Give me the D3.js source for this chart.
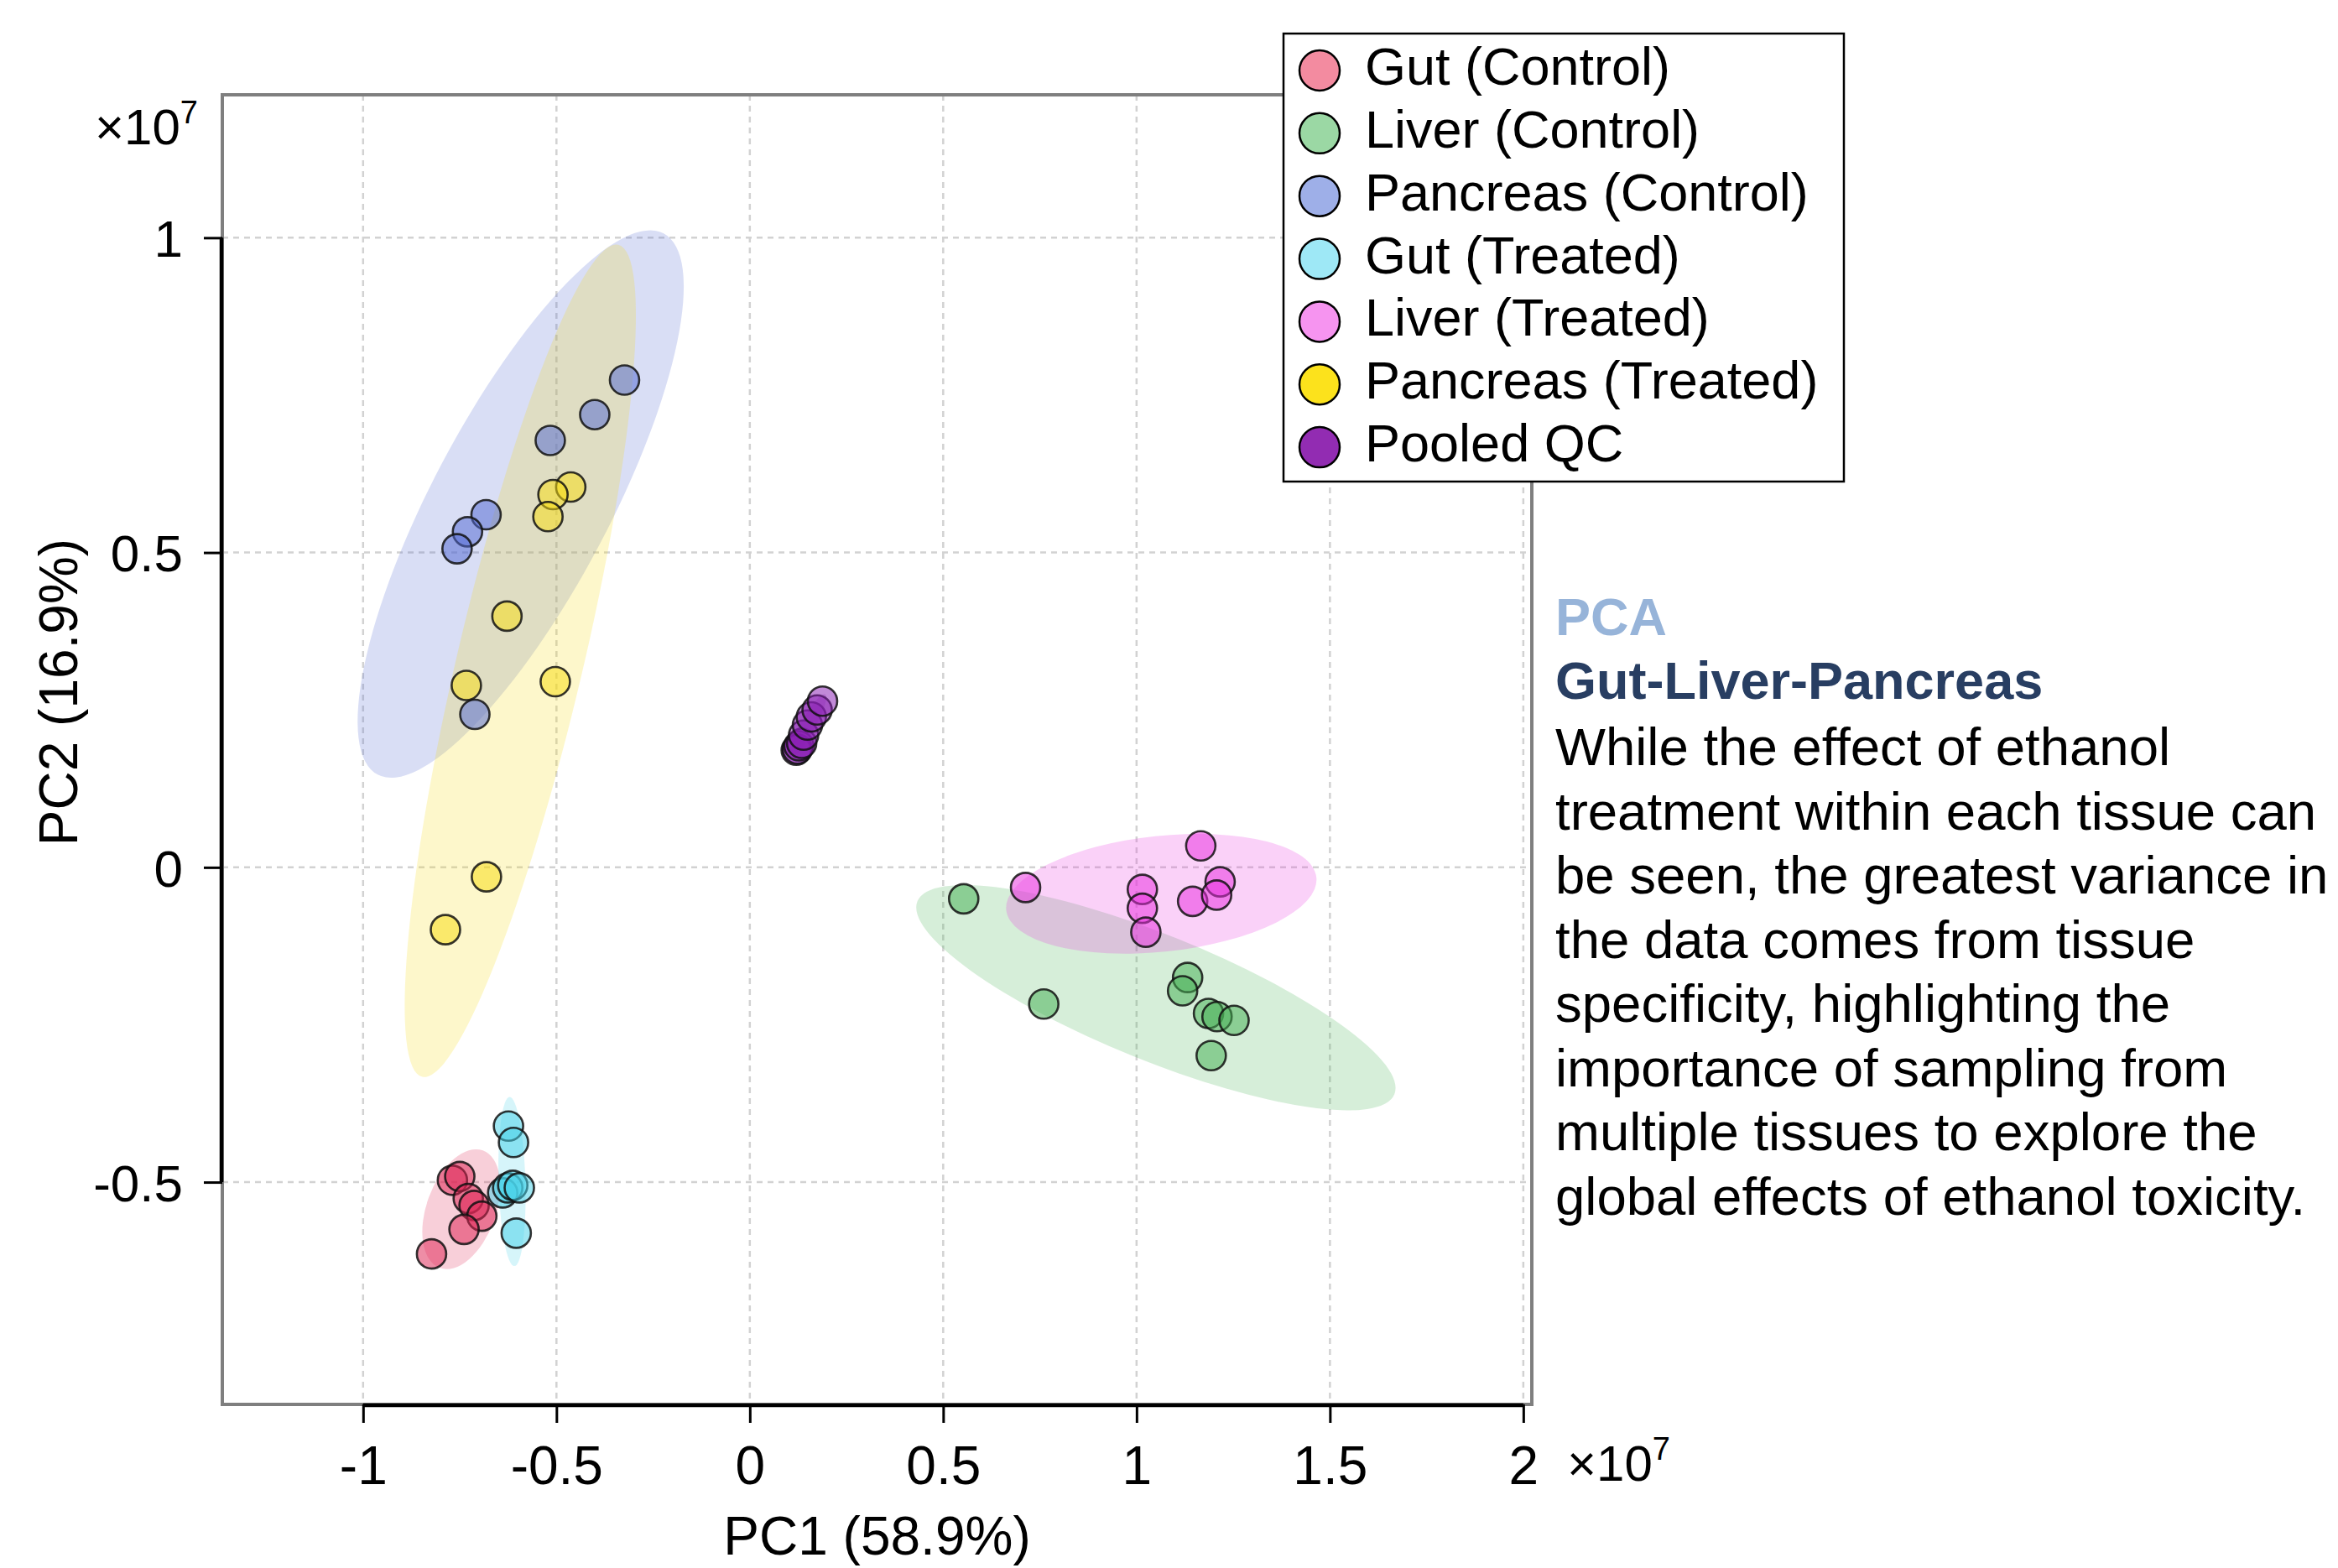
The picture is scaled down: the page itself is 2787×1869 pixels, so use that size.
<!DOCTYPE html>
<html>
<head>
<meta charset="utf-8">
<script src="https://cdn.jsdelivr.net/npm/d3@7/dist/d3.min.js"></script>
<style>
	body { margin: 0; background: #fff; }
	svg text { font-family: 'Liberation Sans', Arial, Helvetica, sans-serif; fill: #000; }
</style>
</head>
<body>
<div id="chart"></div>
<script>
// PCA scores, both axes in units of 1e7
const groupNames = ['Gut (Control)', 'Liver (Control)', 'Pancreas (Control)', 'Gut (Treated)', 'Liver (Treated)', 'Pancreas (Treated)', 'Pooled QC'];
const groupColors = ['#df2554', '#46b054', '#526ad3', '#46d1e8', '#e82fdf', '#f8dc14', '#8a1eb4'];
const legendColors = ['#f38ba0', '#9bd8a4', '#9eafe8', '#9ee8f6', '#f694f0', '#fce21c', '#922cb2'];

const gutControl = [[-0.769, -0.497], [-0.750, -0.491], [-0.728, -0.526], [-0.713, -0.537], [-0.693, -0.554], [-0.739, -0.575], [-0.823, -0.614]];
const liverControl = [[0.553, -0.050], [0.760, -0.217], [1.132, -0.175], [1.119, -0.196], [1.186, -0.232], [1.208, -0.237], [1.252, -0.243], [1.193, -0.299]];
const pancreasControl = [[-0.324, 0.774], [-0.401, 0.719], [-0.516, 0.678], [-0.682, 0.560], [-0.730, 0.533], [-0.757, 0.506], [-0.711, 0.243]];
const gutTreated = [[-0.624, -0.411], [-0.611, -0.437], [-0.639, -0.517], [-0.626, -0.509], [-0.613, -0.505], [-0.596, -0.509], [-0.604, -0.581]];
const liverTreated = [[1.166, 0.034], [0.713, -0.032], [1.015, -0.035], [1.015, -0.065], [1.024, -0.103], [1.145, -0.054], [1.216, -0.023], [1.207, -0.044]];
const pancreasTreated = [[-0.463, 0.604], [-0.509, 0.592], [-0.522, 0.557], [-0.628, 0.399], [-0.733, 0.289], [-0.503, 0.295], [-0.681, -0.015], [-0.787, -0.099]];
const pooledQC = [[0.120, 0.186], [0.123, 0.188], [0.127, 0.193], [0.134, 0.197], [0.139, 0.210], [0.149, 0.226], [0.159, 0.239], [0.174, 0.250], [0.188, 0.264]];
const groupScores = [gutControl, liverControl, pancreasControl, gutTreated, liverTreated, pancreasTreated, pooledQC];

// confidence ellipses: centre and two conjugate half-axes, data units
const ellipseCenters = [[-0.746, -0.543], [1.050, -0.207], [-0.5925, 0.577], [-0.615, -0.499], [1.064, -0.042], [-0.5935, 0.328], [0.150, 0.225]];
const ellipseMajor = [[0.0557, 0.0933], [0.6167, -0.1532], [0.3698, 0.4297], [-0.0061, 0.1343], [0.401, 0.0259], [0.2536, 0.6607], [0.045, 0.050]];
const ellipseMinor = [[0.0841, -0.0189], [-0.0607, -0.0924], [0.2025, -0.0659], [0.0347, 0], [0.0156, -0.0915], [0.1582, -0.0229], [0.016, -0.006]];

const xLimits = [-1.364, 2.022];
const yLimits = [-0.853, 1.227];
const xTicks = [-1, -0.5, 0, 0.5, 1, 1.5, 2];
const yTicks = [-0.5, 0, 0.5, 1];
const xLabel = 'PC1 (58.9%)';
const yLabel = 'PC2 (16.9%)';

const noteTitle = 'PCA';
const noteSubtitle = 'Gut-Liver-Pancreas';
const noteLines = [
	'While the effect of ethanol',
	'treatment within each tissue can',
	'be seen, the greatest variance in',
	'the data comes from tissue',
	'specificity, highlighting the',
	'importance of sampling from',
	'multiple tissues to explore the',
	'global effects of ethanol toxicity.'
];

const PcaPlot = {
	width: 2787,
	height: 1869,
	box: { left: 265, top: 113, right: 1826, bottom: 1674 },
	tickSize: 22,
	pointRadius: 17.5,
	ellipseOpacity: 0.22,
	pointOpacity: 0.52,

	svg: null,
	x: null,
	y: null,

	init: function() {
		const self = this;
		var box = self.box;

		self.svg = d3.select('#chart').append('svg')
			.attr('width', self.width)
			.attr('height', self.height)
			.style('display', 'block')
			.style('background', '#fff');

		self.x = d3.scaleLinear().domain(xLimits).range([box.left, box.right]);
		self.y = d3.scaleLinear().domain(yLimits).range([box.bottom, box.top]);
	},
	update: function() {
		PcaPlot.drawGrid();
		PcaPlot.drawEllipses();
		PcaPlot.drawPoints();
		PcaPlot.drawAxes();
		PcaPlot.drawLegend();
		PcaPlot.drawNote();
	},

	// plot area

	drawGrid: function() {
		const self = this;
		var x = self.x, y = self.y, box = self.box;
		var grid = self.svg.append('g').attr('class', 'grid')
			.style('stroke', '#d2d2d2')
			.style('stroke-width', 2.5)
			.style('stroke-dasharray', '7,6');

		grid.selectAll('.vgrid').data(xTicks).enter()
			.append('line')
			.attr('x1', d => x(d)).attr('x2', d => x(d))
			.attr('y1', box.top).attr('y2', box.bottom);

		grid.selectAll('.hgrid').data(yTicks).enter()
			.append('line')
			.attr('x1', box.left).attr('x2', box.right)
			.attr('y1', d => y(d)).attr('y2', d => y(d));
	},
	drawEllipses: function() {
		const self = this;
		var x = self.x, y = self.y;
		var ellipseData = ellipseCenters.map(function(c, i) {
			return { c: c, a: ellipseMajor[i], b: ellipseMinor[i], color: groupColors[i] };
		});

		// unit circle mapped onto the ellipse through the scales
		self.svg.append('g').attr('class', 'ellipses')
			.selectAll('circle')
			.data(ellipseData).enter()
			.append('circle')
			.attr('r', 1)
			.attr('transform', function(d) {
				var cx = x(d.c[0]), cy = y(d.c[1]);
				var m = [
					x(d.c[0] + d.a[0]) - cx, y(d.c[1] + d.a[1]) - cy,
					x(d.c[0] + d.b[0]) - cx, y(d.c[1] + d.b[1]) - cy,
					cx, cy
				];
				return 'matrix(' + m.join(',') + ')';
			})
			.style('fill', d => d.color)
			.style('fill-opacity', self.ellipseOpacity)
			.style('stroke', 'none');
	},
	drawPoints: function() {
		const self = this;
		var x = self.x, y = self.y;

		var groups = self.svg.append('g').attr('class', 'points')
			.selectAll('g')
			.data(groupScores).enter()
			.append('g')
			.style('fill', (d, i) => groupColors[i]);

		groups.selectAll('circle')
			.data(d => d).enter()
			.append('circle')
			.attr('cx', d => x(d[0]))
			.attr('cy', d => y(d[1]))
			.attr('r', self.pointRadius)
			.style('fill-opacity', self.pointOpacity)
			.style('stroke', '#111')
			.style('stroke-opacity', 0.85)
			.style('stroke-width', 2.6);
	},

	// axes

	drawAxes: function() {
		const self = this;
		var x = self.x, y = self.y, box = self.box;
		var fmt = function(d) { return String(d); };

		// gray box round the axes
		self.svg.append('rect')
			.attr('x', box.left).attr('y', box.top)
			.attr('width', box.right - box.left)
			.attr('height', box.bottom - box.top)
			.style('fill', 'none')
			.style('stroke', '#7f7f7f')
			.style('stroke-width', 4);

		var xAxis = self.svg.append('g')
			.attr('transform', 'translate(0,' + box.bottom + ')')
			.call(d3.axisBottom(x).tickValues(xTicks).tickFormat(fmt).tickSize(self.tickSize).tickPadding(28));
		var yAxis = self.svg.append('g')
			.attr('transform', 'translate(' + box.left + ',0)')
			.call(d3.axisLeft(y).tickValues(yTicks).tickFormat(fmt).tickSize(self.tickSize).tickPadding(25));

		[xAxis, yAxis].forEach(function(axis) {
			axis.select('.domain').remove();
			axis.selectAll('.tick line').style('stroke', '#000').style('stroke-width', 3);
			axis.selectAll('.tick text').style('font-family', null);
		});
		xAxis.selectAll('.tick text').style('font-size', '64px').attr('dy', '0.71em');
		yAxis.selectAll('.tick text').style('font-size', '62px').attr('dy', '0.36em');

		// black axis lines span the tick range only
		self.svg.append('line')
			.attr('x1', x(d3.min(xTicks))).attr('x2', x(d3.max(xTicks)))
			.attr('y1', box.bottom + 1).attr('y2', box.bottom + 1)
			.style('stroke', '#000').style('stroke-width', 4.5);
		self.svg.append('line')
			.attr('x1', box.left - 1).attr('x2', box.left - 1)
			.attr('y1', y(d3.max(yTicks))).attr('y2', y(d3.min(yTicks)))
			.style('stroke', '#000').style('stroke-width', 4.5);

		// exponent labels
		self.addExponent(1868, 1765);
		self.addExponent(113, 172);

		// titles
		self.svg.append('text')
			.attr('x', (box.left + box.right) / 2)
			.attr('y', 1853)
			.attr('text-anchor', 'middle')
			.style('font-size', '64px')
			.text(xLabel);
		self.svg.append('text')
			.attr('transform', 'translate(92,825) rotate(-90)')
			.attr('text-anchor', 'middle')
			.style('font-size', '64px')
			.text(yLabel);
	},
	addExponent: function(px, py) {
		const self = this;
		var t = self.svg.append('text')
			.attr('x', px).attr('y', py)
			.style('font-size', '60px');
		t.append('tspan').text('\u00d710');
		t.append('tspan')
			.attr('dy', -25)
			.style('font-size', '38px')
			.text('7');
	},

	// legend

	drawLegend: function() {
		const self = this;
		var left = 1530, top = 40, boxWidth = 668, boxHeight = 534;
		var rowHeight = 74.85, firstRow = 84;

		var legend = self.svg.append('g').attr('class', 'legend');
		legend.append('rect')
			.attr('x', left).attr('y', top)
			.attr('width', boxWidth).attr('height', boxHeight)
			.style('fill', '#fff')
			.style('stroke', '#000')
			.style('stroke-width', 2.5);

		var rows = legend.selectAll('.row')
			.data(groupNames).enter()
			.append('g')
			.attr('class', 'row')
			.attr('transform', (d, i) => 'translate(0,' + (firstRow + i * rowHeight) + ')');

		rows.append('circle')
			.attr('cx', 1573).attr('cy', 0)
			.attr('r', 24)
			.style('fill', (d, i) => legendColors[i])
			.style('stroke', '#000')
			.style('stroke-width', 2.5);
		rows.append('text')
			.attr('x', 1627).attr('y', 17)
			.style('font-size', '63px')
			.text(d => d);
	},

	// note on the right

	drawNote: function() {
		const self = this;
		var left = 1854;

		self.svg.append('text')
			.attr('x', left).attr('y', 757)
			.style('font-size', '63px').style('font-weight', 'bold')
			.style('fill', '#97b4d9')
			.text(noteTitle);
		self.svg.append('text')
			.attr('x', left).attr('y', 833)
			.style('font-size', '63px').style('font-weight', 'bold')
			.style('fill', '#283e62')
			.text(noteSubtitle);

		self.svg.append('g').selectAll('text')
			.data(noteLines).enter()
			.append('text')
			.attr('x', left)
			.attr('y', (d, i) => 912 + i * 76.5)
			.style('font-size', '63.5px')
			.text(d => d);
	}
};

PcaPlot.init();
PcaPlot.update();
</script>
</body>
</html>
